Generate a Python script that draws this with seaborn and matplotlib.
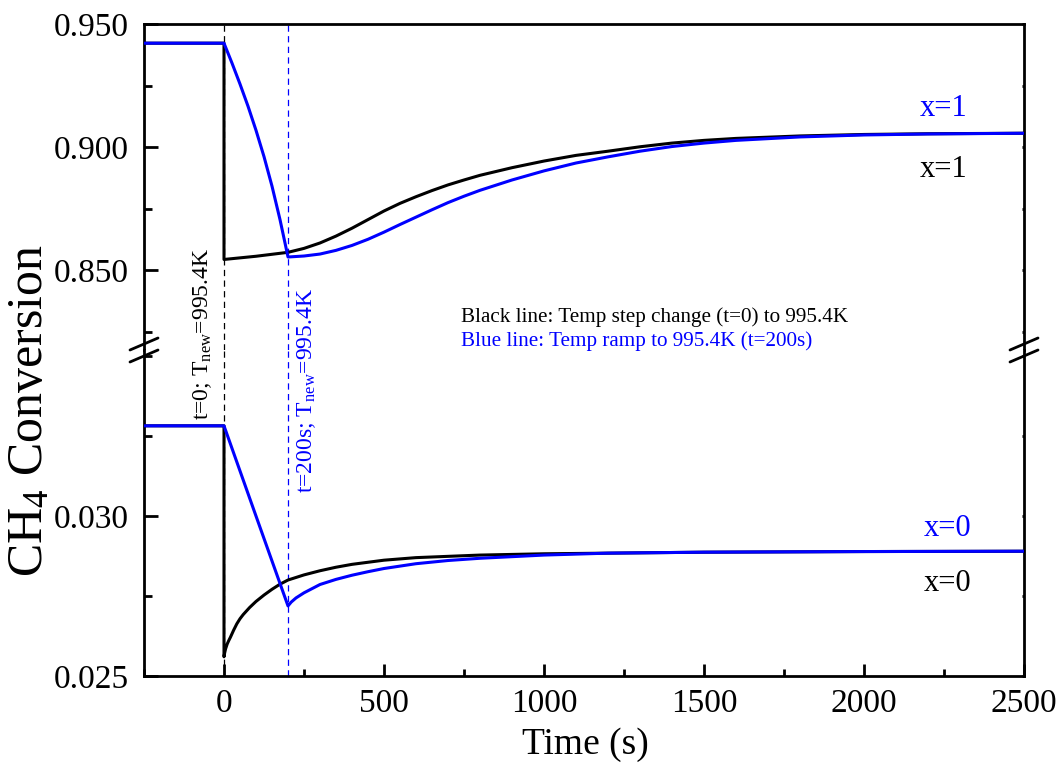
import matplotlib
matplotlib.use("Agg")
import matplotlib.pyplot as plt
import seaborn as sns
from matplotlib.lines import Line2D
from matplotlib.ticker import MultipleLocator, FixedLocator

# ---------------- data ----------------
# upper panel: x = 1
t_black_x1 = [-250, 0, 0, 100, 200, 250, 300, 350, 400, 450, 500, 550, 600, 650,
              700, 750, 800, 900, 1000, 1100, 1200, 1300, 1400, 1500, 1600,
              1800, 2000, 2200, 2500]
v_black_x1 = [0.9422, 0.9422, 0.8543, 0.8556, 0.8572, 0.8588, 0.8610, 0.8638,
              0.8670, 0.8705, 0.8740, 0.8771, 0.8798, 0.8823, 0.8846, 0.8866,
              0.8885, 0.8916, 0.8943, 0.8966, 0.8983, 0.9001, 0.9016, 0.9027,
              0.9035, 0.9045, 0.9051, 0.9054, 0.9056]

t_blue_x1 = [-250, 0, 25, 50, 75, 100, 125, 150, 175, 200, 250, 300, 350, 400,
             450, 500, 550, 600, 650, 700, 750, 800, 900, 1000, 1100, 1200,
             1300, 1400, 1500, 1600, 1800, 2000, 2200, 2500]
v_blue_x1 = [0.9422, 0.9422, 0.9341, 0.9256, 0.9166, 0.9068, 0.8961, 0.8841,
             0.8705, 0.8553, 0.8557, 0.8565, 0.8580, 0.8600, 0.8625, 0.8654,
             0.8685, 0.8715, 0.8745, 0.8774, 0.8800, 0.8824, 0.8866, 0.8903,
             0.8935, 0.8960, 0.8983, 0.9002, 0.9016, 0.9027, 0.9041, 0.9049,
             0.9053, 0.9056]

# lower panel: x = 0
t_black_x0 = [-250, 0, 0, 2, 5, 10, 15, 20, 30, 40, 50, 60, 80, 100, 125, 150,
              175, 200, 250, 300, 350, 400, 500, 600, 800, 1000, 1200, 1500,
              2000, 2500]
v_black_x0 = [0.03282, 0.03282, 0.02560, 0.02572, 0.02585, 0.02600, 0.02611,
              0.02621, 0.02643, 0.02663, 0.02679, 0.02692, 0.02714, 0.02733,
              0.02753, 0.02771, 0.02787, 0.02800, 0.02816, 0.02829, 0.02840,
              0.02849, 0.02862, 0.02870, 0.02878, 0.02882, 0.02884, 0.02887,
              0.02889, 0.02890]

t_blue_x0 = [-250, 0, 100, 200, 210, 225, 250, 275, 300, 350, 400, 450, 500,
             600, 700, 800, 1000, 1200, 1500, 2000, 2500]
v_blue_x0 = [0.03282, 0.03282, 0.03000, 0.02719, 0.02731, 0.02744, 0.02760,
             0.02773, 0.02786, 0.02802, 0.02815, 0.02826, 0.02836, 0.02851,
             0.02861, 0.02868, 0.02878, 0.02884, 0.02887, 0.02889, 0.02890]

event_times = [0, 200]
event_colors = ["black", "blue"]

x_ticks = [0, 500, 1000, 1500, 2000, 2500]
upper_ticks = [0.850, 0.900, 0.950]
lower_ticks = [0.025, 0.030]

# ---------------- style ----------------
sns.set_style("ticks")
plt.rcParams["font.family"] = ["Liberation Serif", "DejaVu Serif"]
plt.rcParams["mathtext.fontset"] = "custom"
plt.rcParams["mathtext.rm"] = "Liberation Serif"
plt.rcParams["mathtext.it"] = "Liberation Serif:italic"
plt.rcParams["mathtext.bf"] = "Liberation Serif:bold"
plt.rcParams["text.color"] = "black"
plt.rcParams["axes.labelcolor"] = "black"
plt.rcParams["xtick.color"] = "black"
plt.rcParams["ytick.color"] = "black"
plt.rcParams["xtick.labelcolor"] = "black"
plt.rcParams["ytick.labelcolor"] = "black"

W, H = 1063, 767
fig = plt.figure(figsize=(W / 100, H / 100), dpi=100)


def fx(px):
    return px / W


def fy(py):
    return 1 - py / H


left, right = 144, 1024
top, brk, bottom = 24, 350, 676
ax_top = fig.add_axes([fx(left), fy(brk), fx(right) - fx(left), fy(top) - fy(brk)])
ax_bot = fig.add_axes([fx(left), fy(bottom), fx(right) - fx(left), fy(brk) - fy(bottom)])

BLUE = "#0000FF"
LW = 2.2

for ax in (ax_top, ax_bot):
    for t, c in zip(event_times, event_colors):
        ax.axvline(t, color=BLUE if c == "blue" else "black", lw=0.9,
                   ls=(0, (5, 3.5)), zorder=1)

sns.lineplot(x=t_black_x1, y=v_black_x1, ax=ax_top, color="black", lw=LW,
             sort=False, estimator=None, zorder=3)
sns.lineplot(x=t_blue_x1, y=v_blue_x1, ax=ax_top, color=BLUE, lw=LW,
             sort=False, estimator=None, zorder=4)
sns.lineplot(x=t_black_x0, y=v_black_x0, ax=ax_bot, color="black", lw=LW,
             sort=False, estimator=None, zorder=3)
sns.lineplot(x=t_blue_x0, y=v_blue_x0, ax=ax_bot, color=BLUE, lw=LW,
             sort=False, estimator=None, zorder=4)

for ax in (ax_top, ax_bot):
    ax.set_xlim(-250, 2500)
    ax.set_xlabel("")
    ax.set_ylabel("")
    for s in ax.spines.values():
        s.set_linewidth(2.0)
        s.set_color("black")

ax_top.set_ylim(0.8175, 0.950)
ax_bot.set_ylim(0.025, 0.03519)
ax_top.spines["bottom"].set_visible(False)
ax_bot.spines["top"].set_visible(False)

ax_top.yaxis.set_major_locator(FixedLocator(upper_ticks))
ax_top.yaxis.set_minor_locator(MultipleLocator(0.025))
ax_top.set_yticklabels([f"{v:.3f}" for v in upper_ticks])
ax_bot.yaxis.set_major_locator(FixedLocator(lower_ticks))
ax_bot.yaxis.set_minor_locator(MultipleLocator(0.0025))
ax_bot.set_yticklabels([f"{v:.3f}" for v in lower_ticks])

ax_bot.xaxis.set_major_locator(FixedLocator(x_ticks))
ax_bot.xaxis.set_minor_locator(MultipleLocator(250))
ax_bot.set_xticklabels([str(v) for v in x_ticks])

ax_top.tick_params(axis="x", which="both", bottom=False, top=False, labelbottom=False)
ax_bot.tick_params(axis="x", which="both", top=False, bottom=True, direction="in",
                   width=2.0, labelsize=24, pad=9, colors="black")
ax_bot.tick_params(axis="x", which="major", length=9)
ax_bot.tick_params(axis="x", which="minor", length=5)

for ax in (ax_top, ax_bot):
    ax.tick_params(axis="y", which="both", left=True, right=True, direction="in",
                   width=2.0, labelsize=24, pad=11, colors="black")
    ax.tick_params(axis="y", which="major", length=10)
    ax.tick_params(axis="y", which="minor", length=6)

# right ticks very short
for ax in (ax_top, ax_bot):
    for tk in ax.yaxis.get_major_ticks() + ax.yaxis.get_minor_ticks():
        tk.tick2line.set_markersize(1.5)

# break marks on both spines
for xc in (left, right):
    for yc in (brk - 6, brk + 6):
        fig.add_artist(Line2D([fx(xc - 14), fx(xc + 14)], [fy(yc + 6), fy(yc - 6)],
                              color="black", lw=2.0, transform=fig.transFigure))

# ---------------- texts ----------------
fig.text(fx(585), fy(745), "Time (s)", fontsize=27, ha="center", va="center")
fig.text(fx(30), fy(411), "CH$_4$ Conversion", fontsize=36, rotation=90,
         ha="center", va="center")

fig.text(fx(208), fy(420), "t=0; T$_{\\rm new}$=995.4K", fontsize=17, rotation=90,
         rotation_mode="anchor", ha="left", va="baseline", color="black")
fig.text(fx(312), fy(493), "t=200s; T$_{\\rm new}$=995.4K", fontsize=17, rotation=90,
         rotation_mode="anchor", ha="left", va="baseline", color=BLUE)

fig.text(fx(461), fy(322), "Black line: Temp step change (t=0) to 995.4K",
         fontsize=15.2, ha="left", va="baseline", color="black")
fig.text(fx(461), fy(346), "Blue line: Temp ramp to 995.4K (t=200s)",
         fontsize=15.2, ha="left", va="baseline", color=BLUE)

fig.text(fx(944), fy(116), "x=1", fontsize=22, ha="center", va="baseline", color=BLUE)
fig.text(fx(944), fy(177), "x=1", fontsize=22, ha="center", va="baseline", color="black")
fig.text(fx(948), fy(536), "x=0", fontsize=22, ha="center", va="baseline", color=BLUE)
fig.text(fx(948), fy(591), "x=0", fontsize=22, ha="center", va="baseline", color="black")

fig.savefig("out.png", dpi=100)
